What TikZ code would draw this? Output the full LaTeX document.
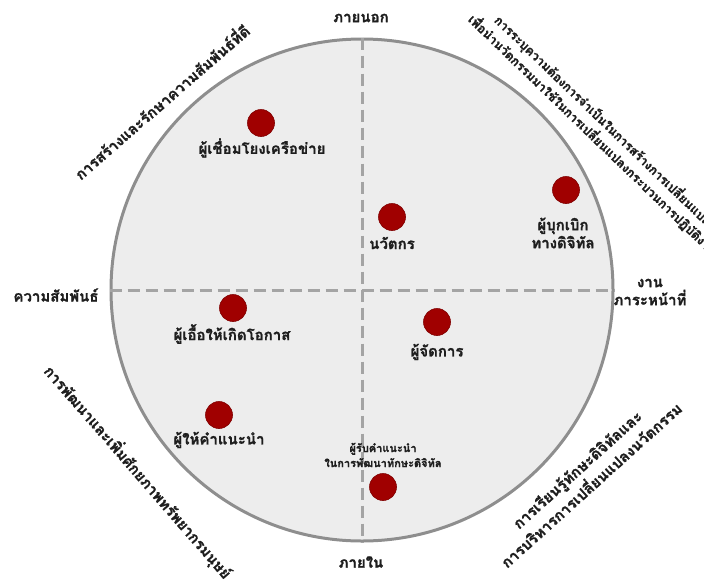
\documentclass[tikz,border=0pt]{standalone}
\usepackage{fontspec}
\newfontfamily\thai[Script=Thai,BoldFeatures={FakeBold=1.2}]{Loma}
\definecolor{cfill}{HTML}{EDEDED}
\definecolor{cedge}{HTML}{8E8E8E}
\definecolor{cdash}{HTML}{A4A4A4}
\definecolor{cdot}{HTML}{A00000}
\definecolor{ctext}{HTML}{1E1E1E}
\tikzset{
  dotnode/.style={circle,fill=cdot,draw=cdot!80!black,line width=0.6pt,minimum size=27pt,inner sep=0pt},
  lbl/.style={font=\thai\bfseries\fontsize{15}{18}\selectfont,text=ctext,inner sep=1pt,align=center},
  smalllbl/.style={font=\thai\bfseries\fontsize{11}{15}\selectfont,text=ctext,inner sep=1pt,align=center},
  trlbl/.style={font=\thai\bfseries\fontsize{12.5}{15}\selectfont,text=ctext,inner sep=1pt},
  axis/.style={draw=cdash,line width=3pt,dash pattern=on 12pt off 6pt},
}
\begin{document}
\begin{tikzpicture}[x=1pt,y=-1pt]
\useasboundingbox (0,0) rectangle (704,584);
\node[circle,fill=cfill,draw=cedge,line width=3pt,minimum size=502pt,inner sep=0pt] (C) at (362,290) {};
\draw[axis] (C.west) -- (C.east);
\draw[axis] (C.north) -- (C.south);
% dots and labels
\node[dotnode] (d1) at (261,123) {};
\node[lbl] (l1) at (262,148) {ผู้เชื่อมโยงเครือข่าย};
\node[dotnode] (d2) at (392,217) {};
\node[lbl] (l2) at (392,243) {นวัตกร};
\node[dotnode] (d3) at (566,190) {};
\node[lbl] (l3) at (563,233) {ผู้บุกเบิก\\ทางดิจิทัล};
\node[dotnode] (d4) at (233,308) {};
\node[lbl] (l4) at (232,334) {ผู้เอื้อให้เกิดโอกาส};
\node[dotnode] (d5) at (437,322) {};
\node[lbl] (l5) at (437,352) {ผู้จัดการ};
\node[dotnode] (d6) at (219,415) {};
\node[lbl] (l6) at (219,440) {ผู้ให้คำแนะนำ};
\node[dotnode] (d7) at (383,487) {};
\node[smalllbl] (l7) at (383,455) {ผู้รับคำแนะนำ\\ในการพัฒนาทักษะดิจิทัล};
% axis labels
\node[lbl] (top) at (361,18) {ภายนอก};
\node[lbl] (bot) at (361,562) {ภายใน};
\node[lbl] (left) at (56,295) {ความสัมพันธ์};
\node[lbl] (right) at (650,292) {งาน\\ภาระหน้าที่};
% diagonal texts
\node[lbl,rotate=41] (tl) at (161,101) {การสร้างและรักษาความสัมพันธ์ที่ดี};
\node[lbl,rotate=-49] (bl) at (138,472) {การพัฒนาและเพิ่มศักยภาพทรัพยากรมนุษย์};
\node[lbl,rotate=42,font=\thai\bfseries\fontsize{15}{21}\selectfont] (br) at (584,477) {การเรียนรู้ทักษะดิจิทัลและ\\การบริหารการเปลี่ยนแปลงนวัตกรรม};
\node[trlbl,rotate=-44,anchor=west] (tr1) at (496,17) {การระบุความต้องการจำเป็นในการสร้างการเปลี่ยนแปลง};
\node[trlbl,rotate=-44,anchor=west] (tr2) at (470,16) {เพื่อนำนวัตกรรมมาใช้ในการเปลี่ยนแปลงกระบวนการปฏิบัติงาน};
\end{tikzpicture}
\end{document}
